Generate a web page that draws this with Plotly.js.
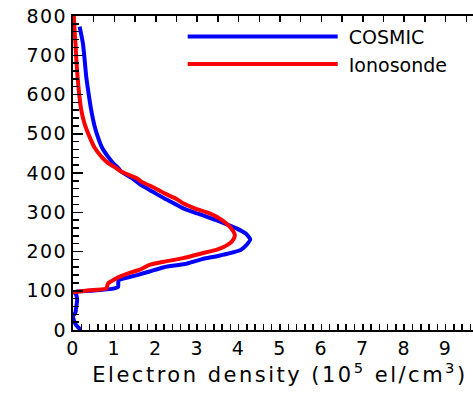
<!DOCTYPE html>
<html>
<head>
<meta charset="utf-8">
<script src="https://cdn.plot.ly/plotly-3.0.1.min.js"></script>
<style>
html,body{margin:0;padding:0;background:#fff;overflow:hidden;}
#chart{width:500px;height:393px;}
#chart .xtick text, #chart .ytick text{letter-spacing:1.5px;}
#chart .g-xtitle text{letter-spacing:2.5px;}
</style>
</head>
<body>
<div id="chart"></div>
<script>
// COSMIC profile: altitude (km) and electron density (1e5 el/cm3)
var cosmicAlt = [0, 3, 12, 25, 35, 45, 60, 75, 89, 94, 97.6, 100, 106, 110, 126, 140, 149, 160, 168, 180, 190, 204, 218, 231, 245, 259, 270, 284, 297, 310, 322, 335, 352, 369, 385, 403, 412, 425, 441, 465, 492, 520, 560, 600, 645, 690, 730, 773];
var cosmicNe  = [0.19, 0.16, 0.08, 0.02, 0.0, 0.06, 0.08, 0.10, 0.08, 0.05, 0.05, 0.45, 1.0, 1.09, 1.1, 1.55, 1.85, 2.2, 2.7, 3.1, 3.55, 4.05, 4.2, 4.28, 4.18, 3.95, 3.7, 3.35, 3.0, 2.66, 2.45, 2.21, 1.93, 1.65, 1.45, 1.17, 1.10, 0.97, 0.85, 0.70, 0.60, 0.52, 0.44, 0.38, 0.32, 0.28, 0.24, 0.16];
// Ionosonde profile
var ionoAlt = [96, 100, 106, 110, 119, 124, 134, 145, 153, 166, 174, 183, 195, 204, 212, 221, 232, 242, 250, 263, 280, 297, 310, 323, 334, 348, 363, 378, 386, 403, 412, 425, 441, 465, 492, 525, 560, 600, 645, 690, 730, 760, 800];
var ionoNe  = [0.0, 0.3, 0.81, 0.82, 0.85, 0.92, 1.09, 1.35, 1.6, 1.85, 2.2, 2.66, 3.1, 3.46, 3.65, 3.79, 3.88, 3.91, 3.88, 3.79, 3.6, 3.3, 2.94, 2.66, 2.5, 2.21, 1.95, 1.65, 1.55, 1.17, 1.05, 0.85, 0.69, 0.52, 0.40, 0.28, 0.20, 0.15, 0.11, 0.08, 0.06, 0.04, 0.02];
var seriesNames = ['COSMIC', 'Ionosonde'];
var xTickVals = [0,1,2,3,4,5,6,7,8,9];

var FONT = 'DejaVu Sans, Liberation Sans, Arial, sans-serif';
var PAD = '\u00a0';

var traces = [
  {x: cosmicNe, y: cosmicAlt, mode: 'lines', name: PAD + seriesNames[0],
   line: {color: '#0000ff', width: 4, shape: 'spline', smoothing: 0.5}},
  {x: ionoNe, y: ionoAlt, mode: 'lines', name: PAD + seriesNames[1],
   line: {color: '#ff0000', width: 4, shape: 'spline', smoothing: 0.5}},
  {x: [], y: [], xaxis: 'x2', yaxis: 'y', showlegend: false, hoverinfo: 'skip'}
];

var layout = {
  width: 500, height: 393,
  margin: {l: 73, r: 13, t: 16, b: 63},
  paper_bgcolor: '#fff', plot_bgcolor: '#fff',
  showlegend: true,
  legend: {
    x: 0.265, y: 0.995, xanchor: 'left', yanchor: 'top',
    bgcolor: 'rgba(0,0,0,0)', borderwidth: 0,
    font: {family: FONT, size: 19, color: '#000'},
    itemwidth: 150, tracegroupgap: 0
  },
  xaxis: {
    range: [0, 10], tickvals: xTickVals, ticktext: xTickVals.map(String),
    ticks: 'inside', ticklen: 6, tickwidth: 1.5, tickcolor: '#000',
    minor: {dtick: 0.2, ticks: 'inside', ticklen: 6, tickwidth: 1.5, tickcolor: '#000'},
    showline: true, linewidth: 2, linecolor: '#000',
    showgrid: false, zeroline: false,
    tickfont: {family: FONT, size: 19, color: '#000'},
    title: {text: 'Electron density (10<sup>5</sup> el/cm<sup>3</sup>)',
            font: {family: FONT, size: 21, color: '#000'}, standoff: 4},
    automargin: false
  },
  xaxis2: {
    overlaying: 'x', side: 'top', range: [0, 10], dtick: 0.5,
    ticks: 'inside', ticklen: 6, tickwidth: 1.5, tickcolor: '#000',
    showticklabels: false, showline: true, linewidth: 2, linecolor: '#000',
    showgrid: false, zeroline: false
  },
  yaxis: {
    range: [0, 800], dtick: 100,
    ticks: 'inside', ticklen: 10, tickwidth: 1.5, tickcolor: '#000',
    minor: {dtick: 20, ticks: 'inside', ticklen: 6, tickwidth: 1.5, tickcolor: '#000'},
    showline: true, linewidth: 2, linecolor: '#000', mirror: true,
    showgrid: false, zeroline: false,
    tickfont: {family: FONT, size: 19, color: '#000'},
    automargin: false
  }
};

Plotly.newPlot('chart', traces, layout, {displayModeBar: false, staticPlot: true});
</script>
</body>
</html>
